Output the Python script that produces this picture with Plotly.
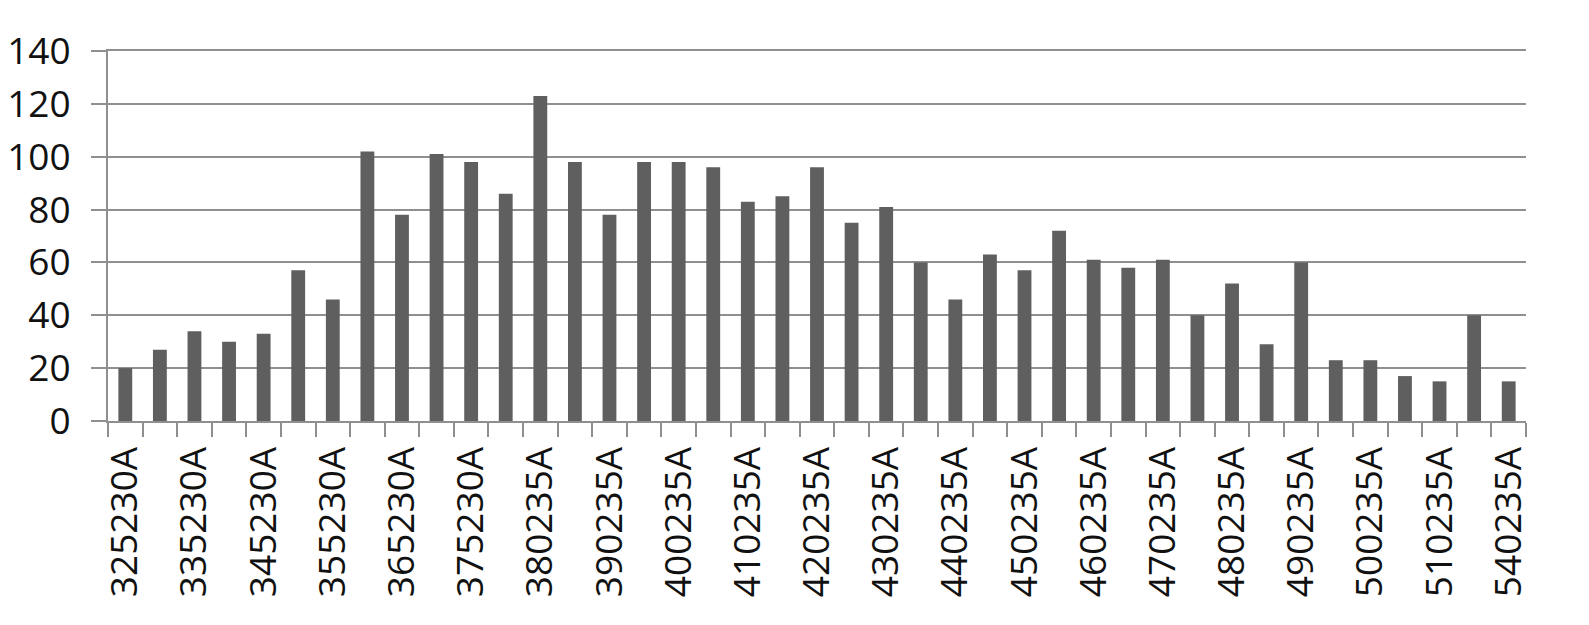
import plotly.graph_objects as go

categories = [
    "325230A", "330230A", "335230A", "340230A", "345230A", "350230A", "355230A",
    "360230A", "365230A", "370230A", "375230A", "380230A", "380235A", "385235A",
    "390235A", "395235A", "400235A", "405235A", "410235A", "415235A", "420235A",
    "425235A", "430235A", "435235A", "440235A", "445235A", "450235A", "455235A",
    "460235A", "465235A", "470235A", "475235A", "480235A", "485235A", "490235A",
    "495235A", "500235A", "505235A", "510235A", "520235A", "540235A",
]
values = [
    20, 27, 34, 30, 33, 57, 46, 102, 78, 101, 98, 86, 123, 98,
    78, 98, 98, 96, 83, 85, 96, 75, 81, 60, 46, 63, 57, 72,
    61, 58, 61, 40, 52, 29, 60, 23, 23, 17, 15, 40, 15,
]
y_ticks = [0, 20, 40, 60, 80, 100, 120, 140]

positions = list(range(len(categories)))
shown_pos = positions[::2]
shown_text = categories[::2]
boundaries = [p - 0.5 for p in positions] + [positions[-1] + 0.5]

grid = "#8f8f8f"
font_family = "Open Sans"
fsize = 37

fig = go.Figure(
    go.Bar(
        x=positions,
        y=values,
        marker=dict(color="#5f5f5f", line=dict(width=0)),
        width=0.4,
        hoverinfo="x+y",
    )
)

# the page body adds an 8px offset; the figure is sized to compensate
fig.update_layout(
    width=1581,
    height=617,
    margin=dict(l=100, r=63, t=43, b=204),
    paper_bgcolor="white",
    plot_bgcolor="white",
    showlegend=False,
    font=dict(family=font_family, size=fsize, color="#111111"),
)

fig.update_xaxes(
    range=[-0.5, len(categories) - 0.5],
    tickmode="array",
    tickvals=shown_pos,
    ticktext=shown_text,
    tickangle=-90,
    ticks="",
    ticklabelstandoff=9,
    showgrid=False,
    showline=True,
    mirror=True,
    linecolor=grid,
    linewidth=2,
    zeroline=False,
    automargin=False,
    tickfont=dict(family=font_family, size=fsize, color="#111111"),
    minor=dict(
        tickmode="array",
        tickvals=boundaries,
        ticks="outside",
        ticklen=14,
        tickwidth=2,
        tickcolor=grid,
        showgrid=False,
    ),
)

fig.update_yaxes(
    range=[0, 140],
    tickmode="array",
    tickvals=y_ticks,
    ticks="outside",
    ticklen=15,
    tickwidth=2,
    tickcolor=grid,
    ticklabelstandoff=13,
    showgrid=True,
    gridcolor=grid,
    gridwidth=2,
    showline=True,
    linecolor=grid,
    linewidth=2,
    zeroline=False,
    automargin=False,
    tickfont=dict(family=font_family, size=fsize, color="#111111"),
)

fig.write_html("out.html")
